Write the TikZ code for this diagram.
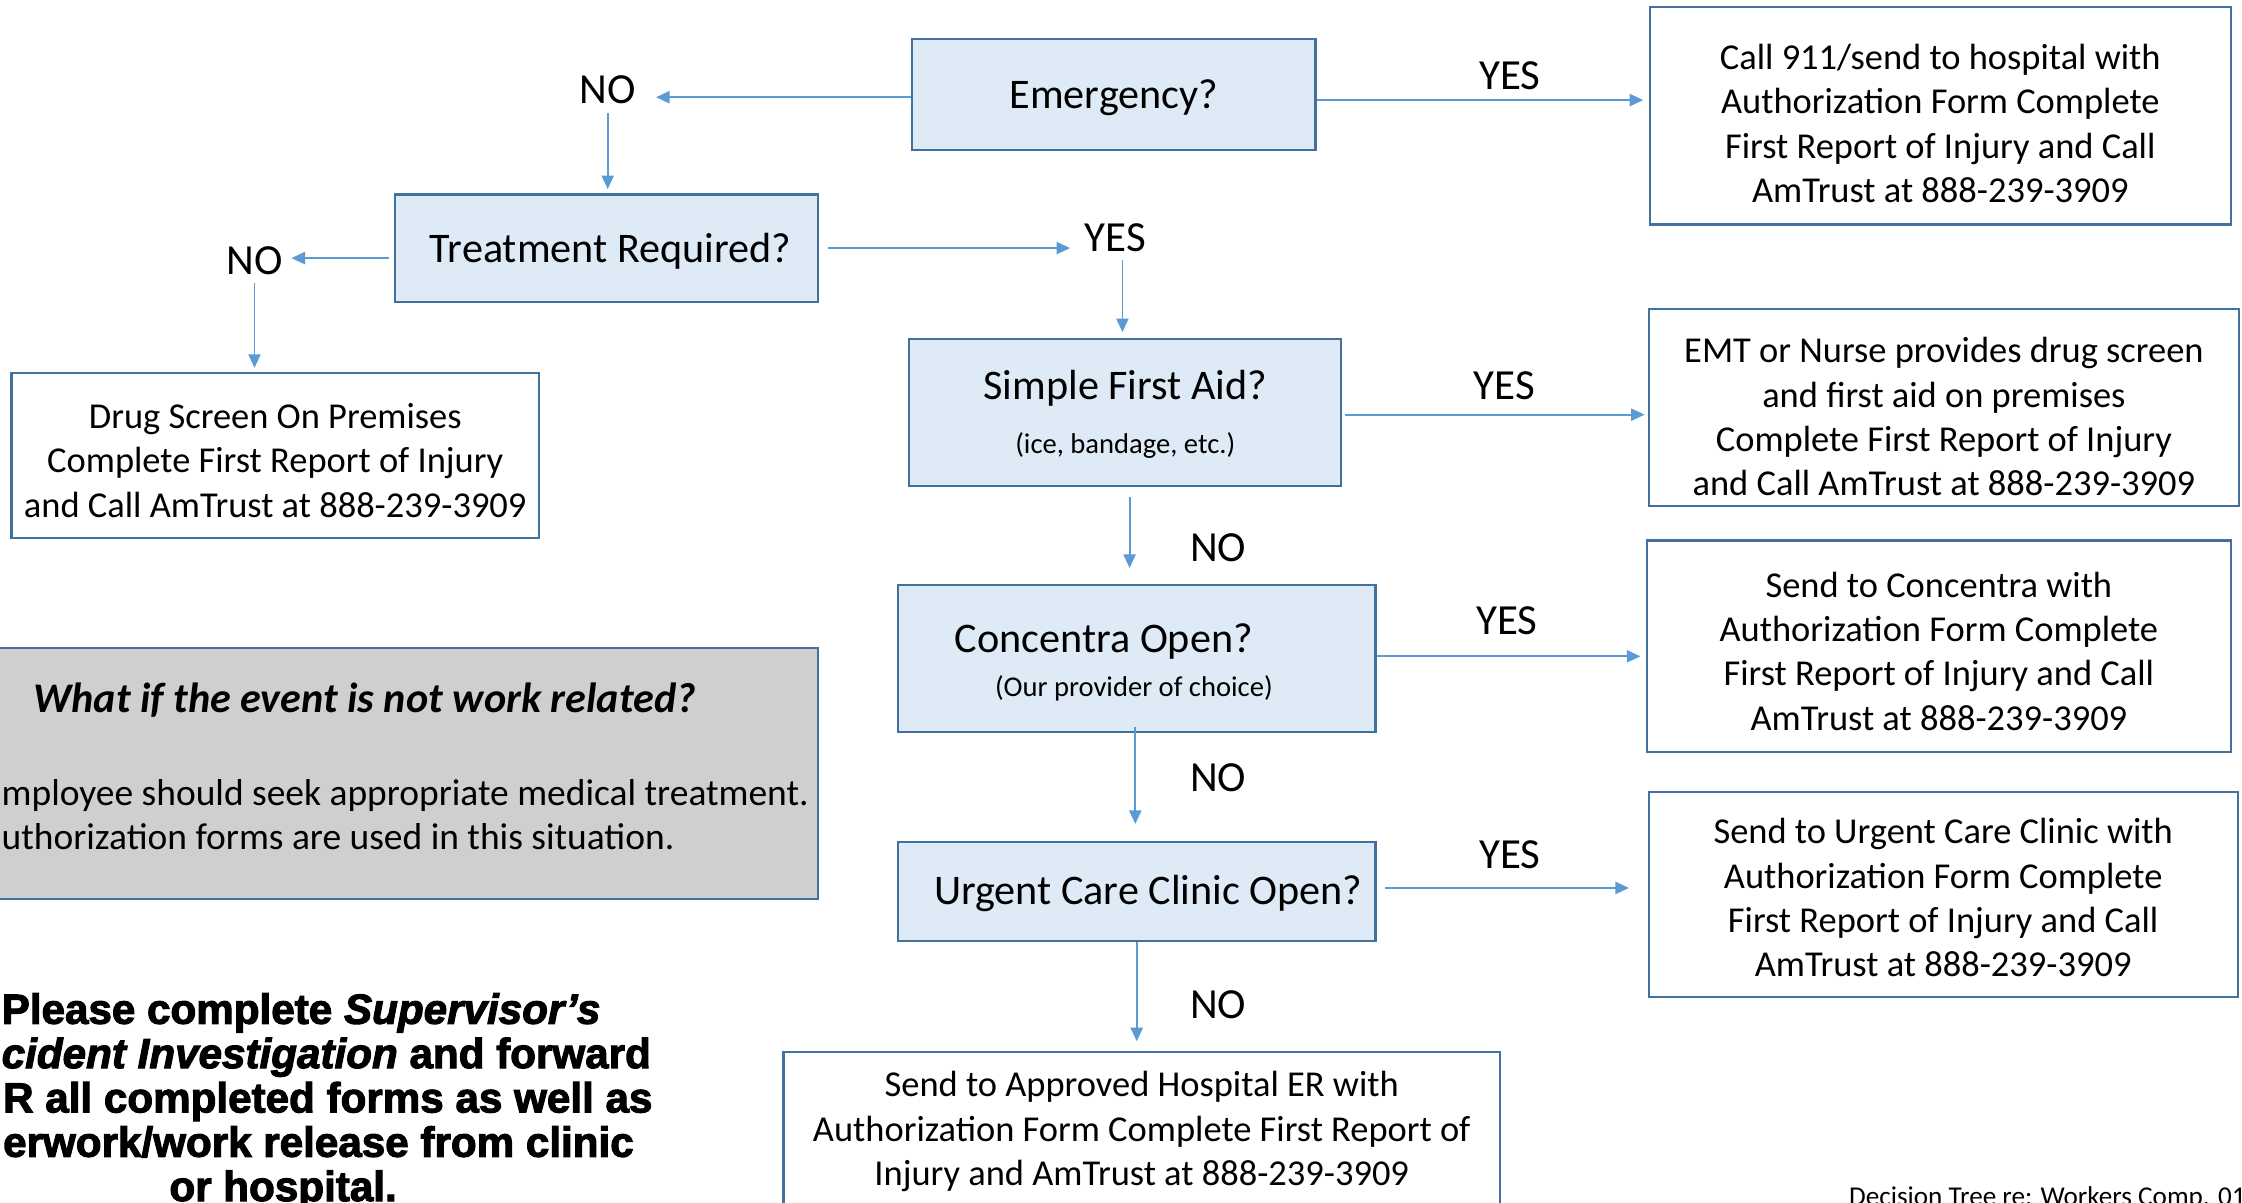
\documentclass[tikz,border=0pt]{standalone}
\usepackage{fontspec}
\setmainfont{Carlito}
\newfontfamily\heavyfont{Liberation Sans}[BoldFeatures={FakeBold=2.5},BoldItalicFeatures={FakeBold=2.5}]
\usetikzlibrary{arrows.meta}
\definecolor{qfill}{HTML}{DEEBF7}
\definecolor{bord}{HTML}{41719C}
\definecolor{arrc}{HTML}{5B9BD5}
\definecolor{grayfill}{HTML}{D0CECE}
\renewcommand{\arraystretch}{1}
\newcommand{\btext}[2]{\raisebox{#1}[\height][\depth]{\begin{tabular}{@{}c@{}}#2\end{tabular}}}
\tikzset{
  qbox/.style={draw=bord, fill=qfill, line width=1.5pt, rectangle, inner sep=0pt, font=\fontsize{29.5}{35}\selectfont},
  rbox/.style={draw=bord, fill=white, line width=1.5pt, rectangle, inner sep=0pt, font=\fontsize{25.5}{31}\selectfont},
  lbl/.style={inner sep=6pt, font=\fontsize{30}{36}\selectfont},
  arr/.style={draw=arrc, line width=1.3pt, -{Triangle[width=8.5pt,length=9.5pt]}},
  heavy/.style={inner sep=0pt, font=\heavyfont\bfseries\fontsize{29.5}{31}\selectfont},
  plain/.style={inner sep=0pt, font=\fontsize{26.2}{31}\selectfont},
}
\begin{document}
\begin{tikzpicture}[x=1pt,y=-1pt]
\useasboundingbox (0,0) rectangle (1568,841);
\clip (0,0) rectangle (1568,841);
\fill[white] (0,0) rectangle (1568,841);

% question boxes
\node[qbox, minimum width=282pt, minimum height=78pt] (em) at (779,66) {\btext{-3pt}{Emergency?}};
\node[qbox, minimum width=296pt, minimum height=75pt] (tr) at (424,173.5) {\btext{-3pt}{\hspace*{6pt}Treatment Required?}};
\node[qbox, minimum width=302pt, minimum height=103pt] (sfa) at (787,288.5) {\btext{-3pt}{Simple First Aid?\\[3pt]{\fontsize{20}{24}\selectfont (ice, bandage, etc.)}}};
\node[qbox, minimum width=334pt, minimum height=103pt] (co) at (795,460.5) {\btext{-4pt}{Concentra Open?\hspace*{46pt}\\[-4pt]{\fontsize{20}{24}\selectfont (Our provider of choice)\hspace*{4pt}}}};
\node[qbox, minimum width=334pt, minimum height=69pt] (uc) at (795,623.5) {\btext{-2pt}{\hspace*{16pt}Urgent Care Clinic Open?}};

% result boxes
\node[rbox, minimum width=406pt, minimum height=152pt] (call) at (1357,81) {\btext{-8pt}{Call 911/send to hospital with\\Authorization Form Complete\\First Report of Injury and Call\\AmTrust at 888-239-3909}};
\node[rbox, minimum width=369pt, minimum height=115pt] (drug) at (192.5,318.5) {\btext{-6pt}{Drug Screen On Premises\\Complete First Report of Injury\\and Call AmTrust at 888-239-3909}};
\node[rbox, minimum width=413pt, minimum height=138pt] (emt) at (1359.5,285) {\btext{-9pt}{EMT or Nurse provides drug screen\\and first aid on premises\\Complete First Report of Injury\\and Call AmTrust at 888-239-3909}};
\node[rbox, minimum width=408pt, minimum height=148pt] (cres) at (1356,452) {\btext{-6pt}{Send to Concentra with\\Authorization Form Complete\\First Report of Injury and Call\\AmTrust at 888-239-3909}};
\node[rbox, minimum width=412pt, minimum height=143pt] (ucres) at (1359,625.5) {\btext{-5pt}{Send to Urgent Care Clinic with\\Authorization Form Complete\\First Report of Injury and Call\\AmTrust at 888-239-3909}};
\node[rbox, minimum width=501pt, minimum height=108pt] (hosp) at (798.5,790) {\btext{-2pt}{Send to Approved Hospital ER with\\Authorization Form Complete First Report of\\Injury and AmTrust at 888-239-3909}};

% labels
\node[lbl] (no1) at (425,63) {NO};
\node[lbl] (no2) at (178,182) {NO};
\node[lbl] (yes1) at (780,166) {YES};
\node[lbl] (yes0) at (1056,53) {YES};
\node[lbl] (yes2) at (1052,270) {YES};
\node[lbl] (no3) at (852,383) {NO};
\node[lbl] (yes3) at (1054,434) {YES};
\node[lbl] (no4) at (852,544) {NO};
\node[lbl] (yes4) at (1056,598) {YES};
\node[lbl] (no5) at (852,703) {NO};

% connectors
\draw[arr, shorten >=8pt] ([yshift=-2pt]em.west) -- ([yshift=-2pt]em.west -| no1.east);
\draw[arr, shorten >=3pt] (no1.south) -- (no1.south |- tr.north);
\draw[arr] ([xshift=-3pt,yshift=-7pt]tr.west) -- ([yshift=-7pt]tr.west -| no2.east);
\draw[arr, shorten >=3pt] (no2.south) -- (no2.south |- drug.north);
\draw[arr, shorten >=4pt] ([xshift=6pt]tr.east) -- (tr.east -| yes1.west);
\draw[arr, shorten >=4pt] ([xshift=5pt]yes1.south) -- ([xshift=5pt]yes1.south |- sfa.north);
\draw[arr, shorten >=4pt] ([yshift=-4pt]em.east) -- ([yshift=-4pt]em.east -| call.west);
\draw[arr, shorten >=2pt] ([xshift=2pt,yshift=-1.5pt]sfa.east) -- ([yshift=-1.5pt]sfa.east -| emt.west);
\draw[arr, shorten >=11pt] ([xshift=3pt,yshift=-7pt]sfa.south) -- ([xshift=3pt]sfa.south |- co.north);
\draw[arr, shorten >=4pt] ([yshift=1.5pt]co.east) -- ([yshift=1.5pt]co.east -| cres.west);
\draw[arr, shorten >=12pt] ([xshift=-1pt,yshift=4pt]co.south) -- ([xshift=-1pt]co.south |- uc.north);
\draw[arr, shorten >=13pt] ([xshift=6pt,yshift=2.5pt]uc.east) -- ([yshift=2.5pt]uc.east -| ucres.west);
\draw[arr, shorten >=7pt] (uc.south) -- (uc.south |- hosp.north);

% grey note box
\node[draw=bord, fill=grayfill, line width=1.5pt, inner sep=0pt, minimum width=592pt, minimum height=176pt] (gb) at (276,541) {};
\node[inner sep=0pt, font=\bfseries\itshape\fontsize{29.5}{34}\selectfont] (gbt) at (255,490) {What if the event is not work related?};
\node[plain, anchor=base west] (gb1) at (1,563) {mployee should seek appropriate medical treatment.};
\node[plain, anchor=base west] (gb2) at (1,594) {uthorization forms are used in this situation.};

% heavy note
\node[heavy, anchor=base west] (h1) at (1,716) {Please complete \itshape Supervisor’s};
\node[heavy, anchor=base west] (h2) at (1,747) {{\itshape cident Investigation} and forward};
\node[heavy, anchor=base west] (h3) at (2,778) {R all completed forms as well as};
\node[heavy, anchor=base west] (h4) at (2,809) {erwork/work release from clinic};
\node[heavy, anchor=base] (h5) at (198,840) {or hospital.};

% footer
\node[inner sep=0pt, anchor=base west, font=\fontsize{19}{22}\selectfont] (foot) at (1293,843) {Decision Tree re: Workers Comp. 01};
\end{tikzpicture}
\end{document}
